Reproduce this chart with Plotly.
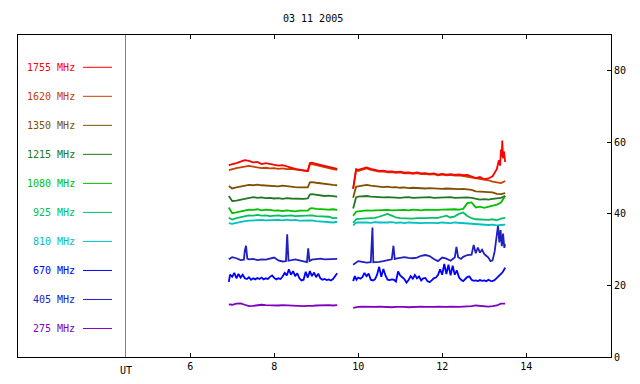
import plotly.graph_objects as go

# ---------------- data ----------------
labels = ["1755 MHz", "1620 MHz", "1350 MHz", "1215 MHz", "1080 MHz",
          "925 MHz", "810 MHz", "670 MHz", "405 MHz", "275 MHz"]
colors = ["#ff0000", "#c84000", "#805000", "#207820", "#00c000",
          "#00c060", "#00c0c0", "#0000ff", "#2020c0", "#8000c0"]

T1 = [6.92, 7.0, 7.1, 7.2, 7.3, 7.4, 7.5, 7.6, 7.7, 7.8, 7.9, 8.0, 8.1, 8.2,
      8.3, 8.4, 8.5, 8.6, 8.7, 8.8, 8.85, 8.9, 9.0, 9.1, 9.2, 9.3, 9.4, 9.5]
T2 = [9.88, 9.95, 10.0, 10.1, 10.2, 10.3, 10.4, 10.5, 10.6, 10.7, 10.8, 10.9,
      11.0, 11.1, 11.2, 11.3, 11.4, 11.5, 11.6, 11.7, 11.8, 11.9, 12.0, 12.1,
      12.2, 12.3, 12.4, 12.5, 12.6, 12.7, 12.8, 12.9, 13.0, 13.1, 13.2, 13.3,
      13.4, 13.5]

f1755_a = [53.6, 53.8, 54.2, 54.6, 55.0, 54.8, 54.4, 54.5, 53.9, 54.2,
           54.0, 53.8, 53.5, 53.6, 53.2, 53.0, 52.6, 52.4, 52.3, 52.0,
           54.2, 54.3, 54.0, 53.7, 53.3, 53.0, 52.8, 52.6]
t1755_b = [9.88, 9.95, 10.0, 10.1, 10.2, 10.3, 10.4, 10.5, 10.6, 10.7, 10.8, 10.9,
           11.0, 11.1, 11.2, 11.3, 11.4, 11.5, 11.6, 11.7, 11.8, 11.9, 12.0, 12.1,
           12.2, 12.3, 12.4, 12.5, 12.6, 12.7, 12.8, 12.9, 13.0, 13.1, 13.2, 13.3,
           13.35, 13.38, 13.4, 13.42, 13.43, 13.45, 13.47, 13.5]
f1755_b = [47.0, 52.5, 52.3, 52.6, 53.0, 52.6, 52.2, 52.0, 52.1, 51.8,
           51.9, 51.7, 51.8, 51.5, 51.6, 51.4, 51.6, 51.3, 51.4, 51.2,
           51.3, 51.0, 51.2, 51.0, 51.1, 50.9, 51.0, 50.8, 50.9, 50.5,
           50.0, 50.3, 49.7, 49.9, 50.5, 52.5,
           55.0, 53.5, 58.0, 56.0, 60.5, 55.5, 57.5, 54.5]

f1620_a = [52.2, 52.5, 52.8, 53.0, 53.3, 53.4, 53.2, 53.0, 52.8, 52.9,
           52.7, 52.8, 52.6, 52.7, 52.5, 52.6, 52.4, 52.2, 52.0, 51.9,
           53.8, 53.9, 53.6, 53.4, 53.0, 52.8, 52.5, 52.3]
f1620_b = [47.0, 52.2, 52.0, 52.3, 52.7, 52.3, 52.0, 51.8, 51.9, 51.6,
           51.7, 51.5, 51.6, 51.3, 51.4, 51.2, 51.4, 51.1, 51.2, 51.0,
           51.1, 50.8, 51.0, 50.8, 50.9, 50.7, 50.8, 50.6, 50.5, 50.2,
           50.0, 49.8, 49.5, 49.4, 49.0, 48.8, 48.6, 49.2]

f1350_a = [47.8, 47.1, 47.4, 47.6, 47.9, 48.1, 48.0, 48.2, 48.0, 47.9,
           48.0, 47.8, 47.7, 47.9, 47.7, 47.6, 47.5, 47.4, 47.5, 47.4,
           48.8, 48.9, 48.7, 48.5, 48.4, 48.2, 48.1, 48.0]
f1350_b = [44.5, 47.6, 47.7, 47.9, 48.1, 47.9, 47.7, 47.6, 47.5, 47.6,
           47.4, 47.5, 47.3, 47.4, 47.2, 47.3, 47.2, 47.3, 47.1, 47.2,
           47.1, 47.2, 47.0, 47.1, 47.0, 47.1, 46.9, 47.0, 46.9, 46.7,
           46.3, 46.2, 46.0, 45.9, 46.0, 45.6, 45.5, 45.8]

f1215_a = [45.0, 43.6, 43.7, 43.9, 44.2, 44.5, 44.7, 44.5, 44.6, 44.4,
           44.5, 44.3, 44.4, 44.2, 44.4, 44.3, 44.2, 44.3, 44.2, 44.3,
           45.4, 45.5, 45.3, 45.2, 45.0, 45.1, 44.9, 44.8]
f1215_b = [41.5, 44.6, 44.8, 44.9, 45.0, 44.8, 44.7, 44.8, 44.6, 44.7,
           44.6, 44.7, 44.5, 44.6, 44.7, 44.5, 44.6, 44.5, 44.6, 44.7,
           44.5, 44.6, 44.5, 44.6, 44.7, 44.5, 44.6, 44.5, 44.6, 44.5,
           44.2, 44.0, 44.1, 44.0, 44.2, 44.3, 44.5, 45.0]

f1080_a = [41.8, 40.2, 40.4, 40.6, 41.0, 41.2, 41.1, 41.3, 41.0, 41.2,
           41.1, 40.9, 41.0, 40.8, 41.0, 40.8, 40.7, 40.9, 40.8, 40.9,
           41.5, 41.6, 41.4, 41.3, 41.4, 41.2, 41.3, 41.1]
f1080_b = [39.5, 40.6, 40.7, 40.9, 41.0, 40.9, 41.0, 40.9, 41.0, 41.1,
           41.0, 41.1, 41.0, 41.1, 41.0, 41.2, 41.1, 41.0, 41.2, 41.1,
           41.2, 41.1, 41.2, 41.3, 41.2, 41.3, 41.2, 41.4, 43.0, 43.2,
           41.8, 42.0, 41.7, 42.0, 42.2, 42.6, 43.2, 45.0]

f925_a = [38.9, 38.4, 38.8, 39.1, 39.4, 39.6, 39.5, 39.7, 39.5, 39.6,
          39.4, 39.5, 39.6, 39.4, 39.5, 39.6, 39.4, 39.5, 39.4, 39.5,
          39.7, 39.6, 39.4, 39.3, 39.4, 39.2, 38.8, 38.9]
f925_b = [37.5, 38.5, 38.6, 38.7, 38.6, 38.7, 38.9, 39.2, 39.7, 40.0,
          39.5, 39.0, 38.8, 38.7, 38.8, 38.7, 38.8, 38.7, 38.8, 38.9,
          38.8, 38.9, 39.2, 39.5, 39.0, 39.3, 40.0, 40.4, 39.4, 38.8,
          38.5, 38.4, 38.5, 38.3, 38.5, 38.2, 38.7, 38.9]

f810_a = [37.4, 37.2, 37.5, 37.8, 38.0, 38.1, 38.2, 38.1, 38.3, 38.2,
          38.3, 38.2, 38.3, 38.2, 38.4, 38.2, 38.3, 38.1, 38.2, 38.1,
          38.3, 38.2, 38.0, 37.9, 38.0, 37.8, 37.6, 37.8]
f810_b = [36.8, 37.5, 37.6, 37.7, 37.6, 37.5, 37.7, 37.6, 37.5, 37.6,
          37.7, 37.5, 37.6, 37.4, 37.6, 37.5, 37.6, 37.4, 37.5, 37.6,
          37.5, 37.4, 37.6, 37.5, 37.4, 37.6, 37.5, 37.4, 37.3, 37.2,
          37.1, 37.0, 37.1, 36.9, 37.0, 36.8, 36.9, 37.0]

t670_a = [6.92, 6.95, 7.0, 7.05, 7.1, 7.15, 7.2, 7.25, 7.3, 7.35, 7.4, 7.45,
          7.5, 7.55, 7.6, 7.65, 7.7, 7.75, 7.8, 7.85, 7.9, 7.95, 8.0, 8.05,
          8.1, 8.15, 8.2, 8.25, 8.3, 8.35, 8.4, 8.45, 8.5, 8.55, 8.6, 8.65,
          8.7, 8.75, 8.8, 8.85, 8.9, 8.95, 9.0, 9.05, 9.1, 9.15, 9.2, 9.25,
          9.3, 9.35, 9.4, 9.45, 9.5]
f670_a = [21.0, 23.0, 22.4, 23.5, 22.0, 23.2, 22.2, 23.0, 22.0, 21.8,
          22.3, 21.6, 22.0, 21.7, 22.1, 21.8, 22.2, 21.7, 22.0, 21.8,
          22.4, 22.8, 22.1, 21.7, 22.0, 21.8, 22.5, 23.5, 22.8, 24.5,
          23.0, 24.0, 22.6, 23.4, 22.0, 21.4, 21.6, 23.8, 22.2, 24.0,
          22.6, 23.6, 22.3, 23.3, 22.0, 21.6, 21.8, 21.5, 21.7, 21.4,
          21.8, 22.6, 23.4]
t670_b = [9.88, 9.92, 9.96, 10.0, 10.05, 10.1, 10.15, 10.2, 10.25, 10.3,
          10.35, 10.4, 10.45, 10.5, 10.55, 10.6, 10.65, 10.7, 10.75, 10.8,
          10.85, 10.9, 10.95, 11.0, 11.05, 11.1, 11.15, 11.2, 11.25, 11.3,
          11.35, 11.4, 11.45, 11.5, 11.55, 11.6, 11.65, 11.7, 11.75, 11.8,
          11.85, 11.9, 11.95, 12.0, 12.05, 12.1, 12.15, 12.2, 12.25, 12.3,
          12.35, 12.4, 12.45, 12.5, 12.55, 12.6, 12.65, 12.7, 12.75, 12.8,
          12.85, 12.9, 12.95, 13.0, 13.05, 13.1, 13.15, 13.2, 13.25, 13.3,
          13.35, 13.4, 13.45, 13.5]
f670_b = [21.2, 22.6, 21.6,
          22.2, 21.9, 22.3, 23.5, 22.6, 23.3, 21.6, 21.4, 21.7, 23.0,
          25.2, 22.4, 24.6, 22.8, 21.6, 21.5, 21.7, 21.6, 21.1, 23.9,
          22.8, 22.3, 21.8, 20.8, 21.5, 22.6, 21.9, 22.9, 22.0, 22.5,
          21.4, 22.0, 22.1, 21.2, 20.9, 21.4, 22.0, 22.2, 22.9, 24.5,
          23.0, 26.0, 23.2, 25.8, 22.8, 25.5, 23.0, 24.2, 22.3, 21.6,
          21.2, 21.8, 22.4, 22.5, 21.6, 21.3, 21.4, 21.2, 21.5, 21.3,
          21.4, 21.2, 21.6, 21.3, 21.2, 21.5, 22.0, 22.6, 23.2, 23.9,
          25.0]

t405_a = [6.92, 7.0, 7.1, 7.2, 7.28, 7.3, 7.33, 7.36, 7.4, 7.5, 7.6, 7.7,
          7.8, 7.9, 8.0, 8.1, 8.2, 8.28, 8.31, 8.34, 8.4, 8.5, 8.6, 8.7,
          8.78, 8.81, 8.84, 8.9, 9.0, 9.1, 9.2, 9.3, 9.4, 9.5]
f405_a = [27.3, 27.9, 27.6, 27.1, 27.2, 29.7, 31.1, 27.5, 27.3, 27.4,
          27.1, 27.3, 27.2, 27.5, 27.8, 27.0, 26.7, 26.8, 34.3, 26.9,
          27.1, 27.3, 27.0, 26.6, 26.5, 30.4, 26.8, 27.2, 27.4, 27.5,
          27.3, 27.4, 27.4, 27.4]
t405_b = [9.88, 9.95, 10.0, 10.1, 10.2, 10.3, 10.32, 10.34, 10.36, 10.4,
          10.5, 10.6, 10.7, 10.8, 10.84, 10.87, 10.9, 11.0, 11.1, 11.2,
          11.3, 11.4, 11.5, 11.6, 11.7, 11.8, 11.9, 12.0, 12.1, 12.2,
          12.3, 12.34, 12.38, 12.45, 12.5, 12.6, 12.7, 12.75, 12.8, 12.85,
          12.9, 12.95, 13.0, 13.05, 13.1, 13.15, 13.2, 13.25, 13.3, 13.33,
          13.36, 13.39, 13.42, 13.45, 13.48, 13.5]
f405_b = [25.8, 26.4, 26.8, 26.6, 26.4, 26.5, 31.2, 36.2, 26.5, 26.5,
          26.6, 26.8, 27.0, 27.3, 31.1, 27.4, 27.5, 27.6, 27.9, 27.7,
          27.6, 27.8, 28.3, 28.5, 28.2, 27.4, 26.8, 27.8, 27.5, 26.9,
          27.8, 30.8, 27.9, 27.4, 28.0, 28.5, 28.6, 31.3, 29.0, 30.6,
          29.2, 30.0, 28.8, 28.3, 27.8, 26.8, 27.0, 29.5, 33.5, 36.8,
          32.0, 35.5, 31.0, 34.5, 30.5, 31.5]

f275_a = [14.7, 14.6, 14.9, 15.0, 14.6, 14.2, 14.3, 14.5, 14.6, 14.5,
          14.4, 14.5, 14.4, 14.5, 14.4, 14.3, 14.4, 14.3, 14.2, 14.3,
          14.4, 14.3, 14.4, 14.5, 14.4, 14.5, 14.4, 14.5]
f275_b = [13.7, 13.9, 14.0, 14.1, 14.0, 13.9, 14.0, 14.1, 14.0, 14.0,
          13.9, 14.0, 14.1, 14.0, 13.9, 14.0, 14.0, 14.1, 14.0, 13.9,
          14.0, 14.1, 14.0, 14.0, 14.1, 14.0, 14.0, 14.1, 14.1, 14.2,
          14.4, 14.3, 14.1, 14.1, 14.2, 14.4, 14.9, 14.9]

x_ticks = [6, 8, 10, 12, 14]
y_ticks = [0, 20, 40, 60, 80]
title_text = "03 11 2005"
ut_pos = 4.46

series = [
    (T1, f1755_a, t1755_b, f1755_b),
    (T1, f1620_a, T2, f1620_b),
    (T1, f1350_a, T2, f1350_b),
    (T1, f1215_a, T2, f1215_b),
    (T1, f1080_a, T2, f1080_b),
    (T1, f925_a, T2, f925_b),
    (T1, f810_a, T2, f810_b),
    (t670_a, f670_a, t670_b, f670_b),
    (t405_a, f405_a, t405_b, f405_b),
    (T1, f275_a, T2, f275_b),
]

# ---------------- figure ----------------
W, H = 640, 384
L, R, TOP, BOT = 18, 29, 35, 25
FONT = "DejaVu Sans Mono"

fig = go.Figure()
for i in reversed(range(len(series))):
    ta, va, tb, vb = series[i]
    xs = list(ta) + [None] + list(tb)
    ys = list(va) + [None] + list(vb)
    fig.add_trace(go.Scatter(x=xs, y=ys, mode="lines",
                             line=dict(color=colors[i], width=1.8),
                             connectgaps=False, showlegend=False,
                             name=labels[i], hoverinfo="skip"))

pw = W - L - R
ph = H - TOP - BOT


def px2paper_x(px):
    return (px - L) / pw


def py2paper_y(py):
    return (H - BOT - py) / ph


shapes = []
annotations = []
for i, lab in enumerate(labels):
    py = 67.5 + 29.2 * i
    annotations.append(dict(x=px2paper_x(77), y=py2paper_y(py), xref="paper",
                            yref="paper", text=lab, showarrow=False,
                            xanchor="right", yanchor="middle",
                            font=dict(family=FONT, size=10, color=colors[i])))
    shapes.append(dict(type="line", xref="paper", yref="paper",
                       x0=px2paper_x(83), x1=px2paper_x(112),
                       y0=py2paper_y(py), y1=py2paper_y(py),
                       line=dict(color=colors[i], width=1)))

shapes.append(dict(type="line", xref="x", yref="paper", x0=ut_pos, x1=ut_pos,
                   y0=0, y1=1, line=dict(color="#808080", width=1)))
annotations.append(dict(x=ut_pos, y=0, xref="x", yref="paper", text="UT",
                        showarrow=False, yanchor="top", yshift=-6,
                        font=dict(family=FONT, size=10, color="black")))
annotations.append(dict(x=px2paper_x(313), y=py2paper_y(18), xref="paper",
                        yref="paper", text=title_text, showarrow=False,
                        xanchor="center", yanchor="middle",
                        font=dict(family=FONT, size=10, color="black")))

fig.update_layout(
    width=W, height=H,
    margin=dict(l=L, r=R, t=TOP, b=BOT, pad=0),
    paper_bgcolor="white", plot_bgcolor="white",
    shapes=shapes, annotations=annotations,
    xaxis=dict(range=[1.9, 16.02], tickvals=x_ticks,
               ticktext=[str(v) for v in x_ticks],
               ticks="inside", ticklen=4, tickcolor="black",
               showline=True, linecolor="black", linewidth=1,
               mirror="ticks", showgrid=False, zeroline=False,
               tickfont=dict(family=FONT, size=10, color="black")),
    yaxis=dict(range=[0, 90], tickvals=y_ticks, side="right",
               ticks="inside", ticklen=4, tickcolor="black",
               showline=True, linecolor="black", linewidth=1,
               mirror=True, showgrid=False, zeroline=False,
               tickfont=dict(family=FONT, size=10, color="black")),
)

fig.write_html(
    "out.html",
    config={"displayModeBar": False},
    post_script="document.body.style.margin='0';"
                "document.body.style.overflow='hidden';"
                "document.documentElement.style.overflow='hidden';",
)
